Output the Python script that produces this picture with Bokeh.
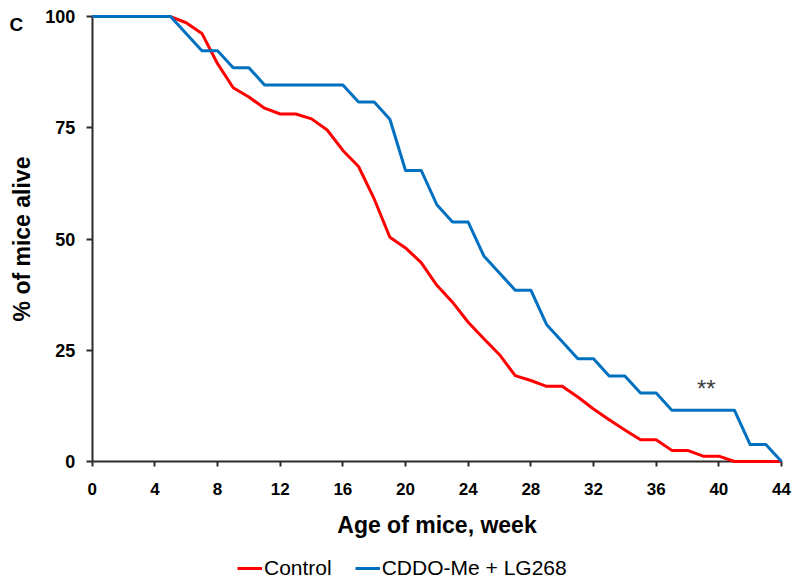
from bokeh.plotting import figure
from bokeh.models import Range1d, FixedTicker, Label, Legend, LegendItem
from bokeh.embed import file_html
from bokeh.resources import INLINE

# ---- data ----
weeks_control = [0, 5, 6, 7, 8, 9, 10, 11, 12, 13, 14, 15, 16, 17, 18, 19, 20, 21, 22,
                 23, 24, 25, 26, 27, 28, 29, 30, 31, 32, 33, 34, 35, 36, 37, 38, 39, 40, 41, 44]
alive_control = [100, 100, 98.6, 96.2, 89.4, 84.0, 81.9, 79.4, 78.1, 78.1, 77.0, 74.5, 69.9,
                 66.3, 59.0, 50.4, 48.0, 44.7, 39.6, 35.8, 31.3, 27.6, 24.0, 19.3, 18.2, 16.9,
                 16.9, 14.5, 11.8, 9.4, 7.1, 4.9, 4.9, 2.5, 2.5, 1.2, 1.2, 0, 0]

weeks_treated = [0, 5, 7, 8, 9, 10, 11, 16, 17, 18, 19, 20, 21, 22, 23, 24, 25, 27, 28, 29,
                 31, 32, 33, 34, 35, 36, 37, 41, 42, 43, 44]
alive_treated = [100, 100, 92.3, 92.3, 88.5, 88.5, 84.6, 84.6, 80.8, 80.8, 76.9, 65.4, 65.4,
                 57.7, 53.8, 53.8, 46.2, 38.5, 38.5, 30.8, 23.1, 23.1, 19.2, 19.2, 15.4, 15.4,
                 11.5, 11.5, 3.8, 3.8, 0]

series_names = ["Control", "CDDO-Me + LG268"]
series_colors = ["#FF0000", "#0070C0"]
x_ticks = list(range(0, 45, 4))
y_ticks = [0, 25, 50, 75, 100]
x_title = "Age of mice, week"
y_title = "% of mice alive"
panel_tag = "C"
signif_text = "**"
signif_pos = (39.2, 16.3)

FONT = "Liberation Sans"
AXIS_COLOR = "#2b2b2b"

# the frame covers the whole canvas; axes are pinned at 0 inside it
p = figure(width=800, height=584, output_backend="svg", toolbar_location=None,
           x_range=Range1d(-5.856, 45.213), y_range=Range1d(-27.64, 103.6),
           frame_width=800, frame_height=584,
           min_border=0, min_border_left=0, min_border_right=0,
           min_border_top=0, min_border_bottom=0)
p.outline_line_color = None
p.xgrid.visible = False
p.ygrid.visible = False
p.background_fill_color = "white"
p.border_fill_color = "white"

r_ctrl = p.line(weeks_control, alive_control, line_color=series_colors[0], line_width=3,
                line_join="round", level="overlay")
r_trt = p.line(weeks_treated, alive_treated, line_color=series_colors[1], line_width=3,
               line_join="round", level="overlay")

for ax in (p.xaxis[0], p.yaxis[0]):
    ax.fixed_location = 0
    ax.axis_line_color = AXIS_COLOR
    ax.axis_line_width = 2
    ax.major_tick_line_color = AXIS_COLOR
    ax.major_tick_line_width = 2
    ax.major_tick_in = 0
    ax.minor_tick_line_color = None
    ax.major_label_text_font = FONT
    ax.major_label_text_font_style = "bold"
    ax.major_label_text_color = "black"

p.xaxis.ticker = FixedTicker(ticks=x_ticks)
p.yaxis.ticker = FixedTicker(ticks=y_ticks)
p.xaxis.bounds = (0, 44)
p.yaxis.bounds = (0, 100)
p.xaxis.major_tick_out = 5
p.yaxis.major_tick_out = 6
p.xaxis.major_label_standoff = 16
p.yaxis.major_label_standoff = 11
p.xaxis.major_label_text_font_size = "17px"
p.yaxis.major_label_text_font_size = "18px"

p.xaxis.axis_label = x_title
p.xaxis.axis_label_text_font = FONT
p.xaxis.axis_label_text_font_style = "bold"
p.xaxis.axis_label_text_font_size = "23px"
p.xaxis.axis_label_text_color = "black"
p.xaxis.axis_label_standoff = 14

p.yaxis.axis_label = y_title
p.yaxis.axis_label_text_font = FONT
p.yaxis.axis_label_text_font_style = "bold"
p.yaxis.axis_label_text_font_size = "23px"
p.yaxis.axis_label_text_color = "black"
p.yaxis.axis_label_standoff = 7

p.add_layout(Label(x=9, y=560, x_units="screen", y_units="screen", text=panel_tag,
                   text_align="left", text_baseline="alphabetic",
                   text_font=FONT, text_font_style="bold", text_font_size="19px",
                   text_color="black"))

p.add_layout(Label(x=signif_pos[0], y=signif_pos[1], text=signif_text,
                   text_align="center", text_baseline="alphabetic",
                   text_font=FONT, text_font_size="24px", text_color="#404040"))

legend = Legend(items=[LegendItem(label=series_names[0], renderers=[r_ctrl]),
                       LegendItem(label=series_names[1], renderers=[r_trt])],
                location=(237, 4), orientation="horizontal")
legend.border_line_color = None
legend.background_fill_alpha = 0
legend.padding = 0
legend.margin = 0
legend.spacing = 23
legend.glyph_width = 25
legend.glyph_height = 22
legend.label_height = 22
legend.label_standoff = 2
legend.label_text_font = FONT
legend.label_text_font_size = "21px"
legend.label_text_color = "black"
p.add_layout(legend, "center")

open("out.html", "w").write(file_html(p, INLINE))
